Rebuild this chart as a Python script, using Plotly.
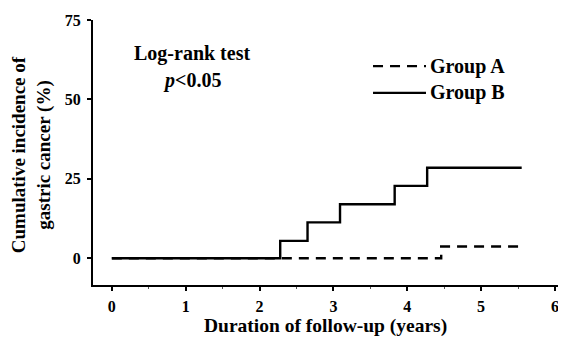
import plotly.graph_objects as go

# Data
group_b_x = [0, 2.28, 2.65, 3.09, 3.83, 4.27, 5.55]
group_b_y = [0, 5.5, 11.3, 17.0, 22.8, 28.5, 28.5]
group_a_x = [0, 4.46, 5.55]
group_a_y = [0, 3.7, 3.7]
x_ticks = [0, 1, 2, 3, 4, 5, 6]
y_ticks = [0, 25, 50, 75]

FONT = "Liberation Serif"
DASH = "10px,7px"

fig = go.Figure()
fig.add_trace(go.Scatter(x=group_a_x, y=group_a_y, mode="lines", line_shape="hv",
                         name="Group A", showlegend=False,
                         line=dict(color="black", width=2.4, dash=DASH)))
fig.add_trace(go.Scatter(x=group_b_x, y=group_b_y, mode="lines", line_shape="hv",
                         name="Group B", showlegend=False,
                         line=dict(color="black", width=2.4)))

bold = dict(family=FONT, color="black", weight="bold")


def ann(text, x, y, size, xanchor="center", **kw):
    return dict(text=text, x=x, y=y, xref="paper", yref="paper", showarrow=False,
                xanchor=xanchor, yanchor="middle", font=dict(size=size, **bold), **kw)


# the page body adds an 8px offset; keep the figure small enough to avoid scrollbars
fig.update_layout(
    width=558, height=329,
    margin=dict(l=85, r=0, t=12, b=52, autoexpand=False),
    plot_bgcolor="white", paper_bgcolor="white",
    font=dict(family=FONT, color="black", size=16, weight="bold"),
    showlegend=False,
    annotations=[
        ann("Log-rank test", 0.209, 0.872, 20),
        ann("<i>p</i><0.05", 0.209, 0.77, 20),
        ann("Group A", 0.708, 0.826, 20, xanchor="left"),
        ann("Group B", 0.708, 0.725, 20, xanchor="left"),
        ann("Duration of follow-up (years)", 0.4926, -0.1535, 19.5),
        ann("Cumulative incidence of<br>gastric cancer (%)", -0.131, 0.49, 19, textangle=-90),
    ],
    shapes=[
        dict(type="line", xref="paper", yref="paper", x0=0.592, x1=0.704, y0=0.826, y1=0.826,
             line=dict(color="black", width=2.4, dash=DASH)),
        dict(type="line", xref="paper", yref="paper", x0=0.592, x1=0.704, y0=0.725, y1=0.725,
             line=dict(color="black", width=2.4)),
    ],
)

fig.update_xaxes(
    range=[-0.255, 6.15], tickvals=x_ticks, showgrid=False, zeroline=False, automargin=False,
    showline=True, linecolor="black", linewidth=2, ticks="outside", ticklen=4,
    tickcolor="black", tickwidth=1.5, tickfont=dict(size=16, **bold), ticklabelstandoff=2,
    minor=dict(dtick=0.5, ticks="outside", ticklen=2, tickcolor="#555", tickwidth=1),
)
fig.update_yaxes(
    range=[-8.4, 75], tickvals=y_ticks, showgrid=False, zeroline=False, automargin=False,
    showline=True, linecolor="black", linewidth=2, ticks="outside", ticklen=4,
    tickcolor="black", tickwidth=1.5, tickfont=dict(size=16, **bold), ticklabelstandoff=3,
)

fig.write_html("out.html")
